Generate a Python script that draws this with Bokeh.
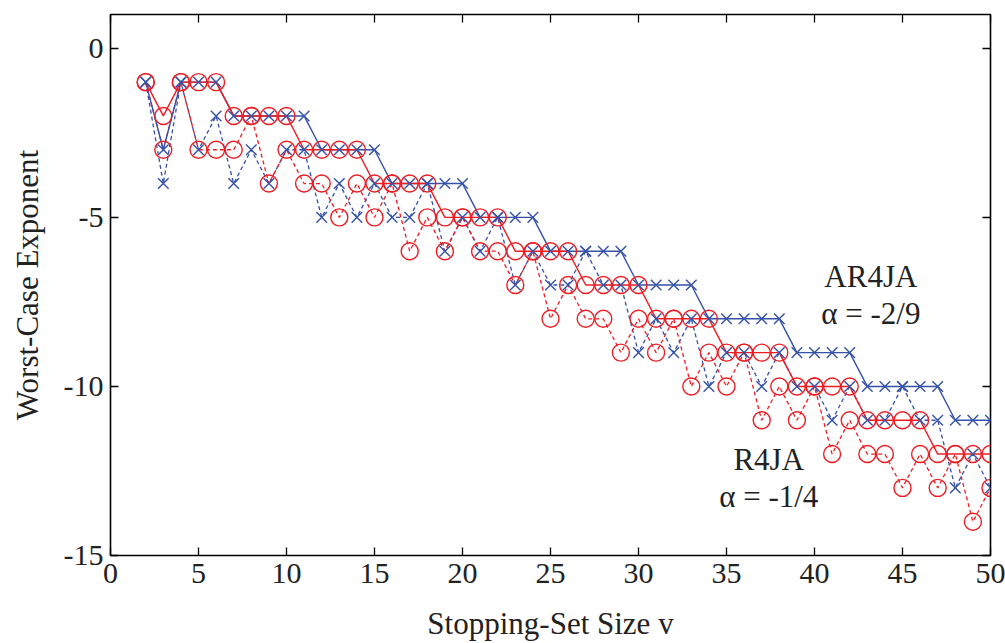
from bokeh.plotting import figure
from bokeh.models import Range1d, FixedTicker, LinearAxis, Label
from bokeh.embed import file_html
from bokeh.resources import INLINE

# ---- data ----
v = list(range(2, 51))
ar4ja_worst = [-1, -3, -1, -1, -1, -2, -2, -2, -2, -2, -3, -3, -3, -3, -4, -4, -4, -4, -4,
               -5, -5, -5, -5, -6, -6, -6, -6, -6, -7, -7, -7, -7, -8, -8, -8, -8, -8,
               -9, -9, -9, -9, -10, -10, -10, -10, -10, -11, -11, -11]
ar4ja_exact = [-1, -4, -1, -3, -2, -4, -3, -4, -3, -3, -5, -4, -5, -4, -5, -5, -4, -6, -5,
               -6, -5, -7, -6, -7, -7, -6, -7, -7, -9, -8, -9, -8, -10, -9, -9, -10, -9,
               -10, -10, -11, -10, -11, -11, -10, -11, -11, -13, -12, -13]
r4ja_worst = [-1, -2, -1, -1, -1, -2, -2, -2, -2, -3, -3, -3, -3, -4, -4, -4, -4, -5, -5,
              -5, -5, -6, -6, -6, -6, -7, -7, -7, -7, -8, -8, -8, -8, -9, -9, -9, -9,
              -10, -10, -10, -10, -11, -11, -11, -11, -12, -12, -12, -12]
r4ja_exact = [-1, -3, -1, -3, -3, -3, -2, -4, -3, -4, -4, -5, -4, -5, -4, -6, -5, -6, -5,
              -6, -6, -7, -6, -8, -7, -8, -8, -9, -8, -9, -8, -10, -9, -10, -9, -11, -10,
              -11, -10, -12, -11, -12, -12, -13, -12, -13, -12, -14, -13]
x_ticks = list(range(0, 51, 5))
y_ticks = [0, -5, -10, -15]
x_tick_labels = {t: str(t) for t in x_ticks}
y_tick_labels = {t: str(t) for t in y_ticks}   # plain hyphen, as in the original

BLUE = "#3552a8"
RED = "#ee1d24"
FONT = "Liberation Serif"
TXT = "#222222"

p = figure(width=1005, height=643, output_backend="svg", toolbar_location=None,
           x_range=Range1d(0, 50), y_range=Range1d(-15, 1),
           min_border_left=110, min_border_right=15, min_border_top=14,
           min_border_bottom=88)
p.background_fill_color = "white"
p.border_fill_color = "white"
p.outline_line_color = "black"
p.outline_line_width = 1.6
p.xgrid.grid_line_color = None
p.ygrid.grid_line_color = None

bottom_ax = p.xaxis[0]
left_ax = p.yaxis[0]

def style_axis(ax, ticks, labels):
    ax.ticker = FixedTicker(ticks=ticks)
    ax.axis_line_color = None
    ax.major_tick_in = 8
    ax.major_tick_out = 0
    ax.minor_tick_line_color = None
    ax.major_tick_line_color = "black"
    ax.major_tick_line_width = 1.3
    ax.major_label_text_font = FONT
    ax.major_label_text_color = TXT
    ax.major_label_text_font_size = "30px"
    ax.major_label_overrides = labels

style_axis(bottom_ax, x_ticks, x_tick_labels)
style_axis(left_ax, y_ticks, y_tick_labels)
bottom_ax.major_label_standoff = 8
left_ax.major_label_standoff = 7

for ax, text in ((left_ax, "Worst-Case Exponent"), (bottom_ax, "Stopping-Set Size v")):
    ax.axis_label = text
    ax.axis_label_text_font = FONT
    ax.axis_label_text_font_style = "normal"
    ax.axis_label_text_font_size = "31px"
    ax.axis_label_text_color = TXT
left_ax.axis_label_standoff = 16
bottom_ax.axis_label_standoff = 20
bottom_ax.axis_label_text_line_height = 0.8

# mirrored tick marks on the top and right edges (no labels)
top = LinearAxis()
style_axis(top, x_ticks, {t: "" for t in x_ticks})
top.major_label_standoff = 0
p.add_layout(top, "above")
right = LinearAxis()
style_axis(right, y_ticks, {t: "" for t in y_ticks})
right.major_label_standoff = 0
p.add_layout(right, "right")

# ---- series ----
p.line(v, ar4ja_exact, line_color=BLUE, line_width=1.3, line_dash="4 3")
p.line(v, r4ja_exact, line_color=RED, line_width=1.3, line_dash="4 3")
p.line(v, ar4ja_worst, line_color=BLUE, line_width=1.4)
p.line(v, r4ja_worst, line_color=RED, line_width=1.4)
p.scatter(v, ar4ja_exact, marker="x", size=15, line_color=BLUE, line_width=1.4)
p.scatter(v, ar4ja_worst, marker="x", size=15, line_color=BLUE, line_width=1.4)
p.scatter(v, r4ja_exact, marker="circle", size=17, line_color=RED, fill_color=None, line_width=1.4)
p.scatter(v, r4ja_worst, marker="circle", size=17, line_color=RED, fill_color=None, line_width=1.4)

# ---- annotations ----
def add_text(x, y, text):
    p.add_layout(Label(x=x, y=y, text=text, text_font=FONT, text_font_size="31px",
                       text_align="center", text_baseline="alphabetic", text_color=TXT))

add_text(43.2, -6.75, "AR4JA")
add_text(43.2, -7.85, "\u03b1 = -2/9")
add_text(37.4, -12.15, "R4JA")
add_text(37.4, -13.25, "\u03b1 = -1/4")

open("out.html", "w").write(file_html(p, INLINE))
